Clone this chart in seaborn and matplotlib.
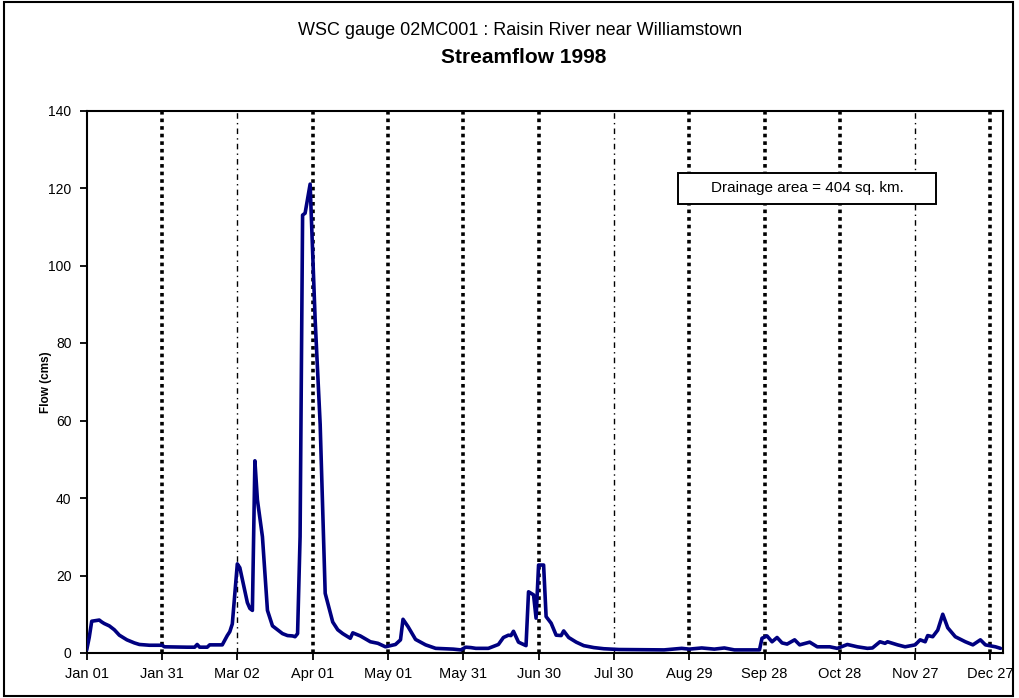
import matplotlib
matplotlib.use("Agg")
import matplotlib.pyplot as plt
from matplotlib.patches import Rectangle
import seaborn as sns
import pandas as pd

# ---- data (day of year offset from Jan 01 1998, flow in cms) ----
days = [0, 1, 2, 3, 5, 6, 7, 9, 11, 13, 16, 19, 21, 25, 30, 31, 40, 43, 44, 45,
        48, 49, 54, 56, 57, 58, 60, 61, 62, 64, 65, 66, 67, 68, 70, 72, 74, 76,
        78, 80, 82, 83, 84, 85, 86, 87, 89, 91, 93, 95, 98, 100, 102, 105, 106,
        109, 113, 116, 119, 123, 125, 126, 128, 131, 135, 139, 146, 149, 151,
        153, 155, 160, 164, 166, 168, 169, 170, 172, 175, 176, 178, 179, 180,
        182, 183, 185, 187, 189, 190, 192, 195, 198, 202, 206, 212, 230, 237,
        240, 245, 250, 254, 258, 268, 269, 271, 273, 275, 277, 279, 282, 284,
        288, 291, 296, 299, 303, 307, 311, 313, 316, 318, 319, 323, 326, 330,
        332, 334, 335, 337, 339, 341, 343, 346, 350, 353, 356, 358, 362, 364]
flow = [0.8, 4.0, 8.2, 8.3, 8.5, 8.0, 7.6, 7.0, 6.0, 4.6, 3.4, 2.6, 2.2, 2.0,
        2.0, 1.6, 1.5, 1.5, 2.2, 1.5, 1.5, 2.1, 2.1, 4.5, 5.5, 7.5, 23.0, 22.0,
        19.0, 13.0, 11.5, 11.0, 49.6, 39.5, 30.0, 11.0, 7.0, 6.0, 5.0, 4.5, 4.4,
        4.2, 5.0, 30.0, 113.0, 113.5, 121.0, 86.0, 59.0, 15.4, 8.0, 6.0, 5.0,
        3.8, 5.2, 4.4, 2.9, 2.5, 1.6, 2.2, 3.4, 8.7, 6.8, 3.5, 2.1, 1.2, 1.0,
        0.8, 1.5, 1.4, 1.2, 1.2, 2.2, 4.0, 4.6, 4.5, 5.6, 2.8, 1.9, 15.8, 15.0,
        9.0, 22.7, 22.7, 9.4, 7.7, 4.6, 4.5, 5.7, 4.0, 2.8, 1.9, 1.4, 1.1, 0.9,
        0.8, 1.2, 1.0, 1.3, 1.0, 1.3, 0.8, 0.8, 3.8, 4.4, 2.9, 4.0, 2.6, 2.3,
        3.4, 2.1, 2.8, 1.6, 1.6, 1.2, 2.2, 1.6, 1.2, 1.3, 2.9, 2.5, 2.9, 2.1,
        1.6, 2.1, 3.4, 2.9, 4.5, 4.2, 5.9, 10.0, 6.5, 4.2, 2.9, 2.1, 3.4, 2.1,
        1.6, 1.2]
tick_days = [0, 30, 60, 90, 120, 150, 180, 210, 240, 270, 300, 330, 360]
tick_labels = ["Jan 01", "Jan 31", "Mar 02", "Apr 01", "May 01", "May 31",
               "Jun 30", "Jul 30", "Aug 29", "Sep 28", "Oct 28", "Nov 27", "Dec 27"]
y_ticks = [0, 20, 40, 60, 80, 100, 120, 140]
thin_lines = [60, 210, 330]
title_line1 = "WSC gauge 02MC001 : Raisin River near Williamstown"
title_line2 = "Streamflow 1998"
note_text = "Drainage area = 404 sq. km."

df = pd.DataFrame({"day": days, "flow": flow})

sns.set_style("ticks")
plt.rcParams["font.family"] = ["Liberation Sans", "DejaVu Sans"]
plt.rcParams["text.color"] = "black"
plt.rcParams["axes.labelcolor"] = "black"
plt.rcParams["xtick.color"] = "black"
plt.rcParams["ytick.color"] = "black"

fig = plt.figure(figsize=(10.19, 6.98), dpi=100)
ax = fig.add_axes([86.7 / 1019, 1 - 653 / 698, (1003 - 86.7) / 1019, (653 - 110.5) / 698])

# vertical month separator lines
for d in tick_days[1:]:
    if d in thin_lines:
        ax.axvline(d, color="black", lw=1.0, ls=(0, (4, 3, 1, 3)), zorder=1)
    else:
        ax.axvline(d, color="black", lw=2.6, ls=(0, (1, 1.1)), zorder=1)

sns.lineplot(data=df, x="day", y="flow", color="#000080", lw=2.6, ax=ax,
             zorder=3, sort=True)

ax.set_xlim(0, 365)
ax.set_ylim(0, 140)
ax.set_xticks(tick_days)
ax.set_xticklabels(tick_labels, fontsize=10.5, color="black")
ax.set_yticks(y_ticks)
ax.set_yticklabels([str(v) for v in y_ticks], fontsize=10, color="black")
ax.tick_params(axis="both", direction="out", length=5, width=1.3, color="black")
ax.tick_params(axis="x", pad=5)
ax.tick_params(axis="y", pad=6)
ax.set_xlabel("")
ax.set_ylabel("Flow (cms)", fontsize=8.5, fontweight="bold", color="black")
ax.yaxis.set_label_coords(-(86.7 - 52) / 916.3, 0.5)
for s in ax.spines.values():
    s.set_visible(True)
    s.set_color("black")
    s.set_linewidth(1.5)

# drainage area box
ax.add_patch(Rectangle((235.6, 115.9), 102.8, 8.0, fill=True, facecolor="white",
                       edgecolor="black", lw=1.4, zorder=4))
ax.text(287, 119.9, note_text, ha="center", va="center", fontsize=11,
        color="black", zorder=5)

fig.text(0.51, 0.957, title_line1, ha="center", va="center", fontsize=13,
         color="black")
fig.text(0.514, 0.917, title_line2, ha="center", va="center", fontsize=15,
         fontweight="bold", color="black")

# figure border
fig.add_artist(Rectangle((0.004, 0.003), 0.99, 0.994, transform=fig.transFigure,
                         fill=False, edgecolor="black", lw=1.5))

fig.savefig("out.png", dpi=100)
